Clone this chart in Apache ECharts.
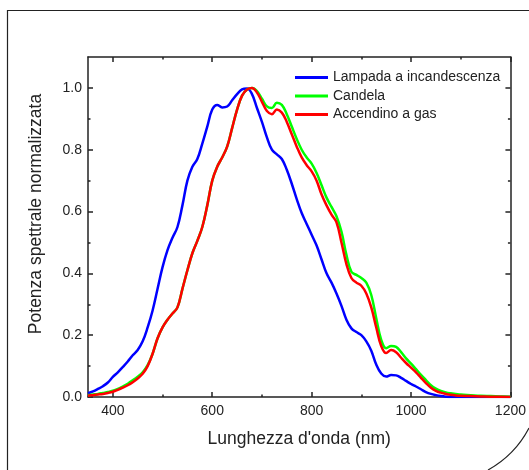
<!DOCTYPE html>
<html>
<head>
<meta charset="utf-8">
<script src="https://cdn.jsdelivr.net/npm/echarts@6/dist/echarts.min.js"></script>
<style>html,body{margin:0;padding:0;background:#fff;}#c{width:529px;height:470px;}</style>
</head>
<body>
<div id="c"></div>
<script>
var wavelengths = [350,360,370,380,390,400,410,420,430,440,450,460,470,480,490,500,510,520,530,540,550,560,570,580,590,600,610,620,630,640,650,660,670,680,690,700,710,720,730,740,750,760,770,780,790,800,810,820,830,840,850,860,870,880,890,900,910,920,930,940,950,960,970,980,990,1000,1010,1020,1030,1040,1050,1060,1070,1080,1090,1100,1120,1140,1160,1180,1200];
var lampada = [0.012,0.018,0.026,0.035,0.047,0.065,0.08,0.097,0.115,0.135,0.152,0.18,0.225,0.28,0.35,0.42,0.475,0.515,0.55,0.62,0.70,0.745,0.77,0.82,0.875,0.93,0.945,0.937,0.94,0.96,0.98,0.995,0.998,0.98,0.935,0.89,0.84,0.80,0.785,0.77,0.735,0.69,0.64,0.595,0.56,0.525,0.49,0.445,0.40,0.37,0.335,0.295,0.25,0.222,0.21,0.2,0.18,0.15,0.105,0.076,0.066,0.071,0.07,0.062,0.052,0.042,0.034,0.025,0.016,0.01,0.006,0.003,0.001,0,0,0,0,0,0,0,0];
var candela = [0.006,0.008,0.01,0.013,0.016,0.02,0.026,0.034,0.043,0.054,0.066,0.08,0.103,0.14,0.19,0.225,0.25,0.27,0.29,0.35,0.41,0.465,0.505,0.55,0.62,0.70,0.745,0.775,0.81,0.87,0.93,0.975,0.995,1.0,0.99,0.965,0.94,0.935,0.952,0.945,0.915,0.875,0.835,0.80,0.775,0.755,0.725,0.685,0.645,0.615,0.585,0.535,0.46,0.405,0.395,0.385,0.37,0.33,0.255,0.185,0.158,0.165,0.162,0.145,0.125,0.108,0.09,0.072,0.055,0.038,0.027,0.02,0.015,0.012,0.01,0.008,0.006,0.004,0.003,0.002,0.001];
var accendino = [0.004,0.006,0.008,0.01,0.013,0.017,0.023,0.03,0.038,0.048,0.06,0.075,0.1,0.14,0.19,0.225,0.25,0.27,0.29,0.35,0.41,0.465,0.505,0.55,0.62,0.70,0.745,0.775,0.81,0.87,0.93,0.975,0.995,1.0,0.985,0.955,0.925,0.915,0.93,0.92,0.89,0.85,0.81,0.775,0.75,0.73,0.70,0.655,0.62,0.59,0.565,0.5,0.43,0.385,0.37,0.36,0.335,0.29,0.225,0.165,0.142,0.152,0.145,0.127,0.11,0.095,0.08,0.062,0.045,0.03,0.02,0.014,0.01,0.007,0.005,0.004,0.003,0.002,0.001,0.001,0.0];
var seriesNames = ['Lampada a incandescenza','Candela','Accendino a gas'];
var xMajor = [400,600,800,1000,1200];
var xMinor = [500,700,900,1100];
var yMajor = [0,0.2,0.4,0.6,0.8,1.0];
var yMinor = [0.1,0.3,0.5,0.7,0.9];

function pairs(ys){ return wavelengths.map(function(x,i){ return [x, ys[i]]; }); }

var FONT = 'Liberation Sans, Arial, sans-serif';
var AX = '#222';
var chart = echarts.init(document.getElementById('c'), null, {renderer:'canvas'});

function xAx(pos, vals, len, main){
  return {
    type:'value', position:pos, min:350, max:1200,
    splitLine:{show:false},
    axisLine:{show:!!main, onZero:false, lineStyle:{color:AX, width:1.5}},
    axisTick:{show:true, inside:true, length:len, customValues:vals, lineStyle:{color:AX, width:1.5}},
    axisLabel:{show:main==='label', customValues:xMajor, margin:7, fontSize:14, color:AX, fontFamily:FONT,
      formatter:function(v){ return String(Math.round(v)); }},
    name: main==='label' ? "Lunghezza d'onda (nm)" : '',
    nameLocation:'middle', nameGap:33,
    nameTextStyle:{fontSize:17.5, color:AX, fontFamily:FONT}
  };
}
function yAx(pos, vals, len, main){
  return {
    type:'value', position:pos, min:0, max:1.1,
    splitLine:{show:false},
    axisLine:{show:!!main, onZero:false, lineStyle:{color:AX, width:1.5}},
    axisTick:{show:true, inside:true, length:len, customValues:vals, lineStyle:{color:AX, width:1.5}},
    axisLabel:{show:main==='label', customValues:yMajor, margin:6, fontSize:14, color:AX, fontFamily:FONT,
      formatter:function(v){ return Number(v).toFixed(1); }},
    name: main==='label' ? 'Potenza spettrale normalizzata' : '',
    nameLocation:'middle', nameGap:43,
    nameTextStyle:{fontSize:17.5, color:AX, fontFamily:FONT, padding:[0,0,0,26]}
  };
}

var colors = ['#0000ff','#00ff00','#ff0000'];
var datasets = [lampada, candela, accendino];

chart.setOption({
  animation:false,
  backgroundColor:'#fff',
  grid:{left:88, right:18, top:57, bottom:73, containLabel:false},
  xAxis:[xAx('bottom', xMajor, 5, 'label'), xAx('top', xMajor, 5, 'line'), xAx('bottom', xMinor, 2.5, null), xAx('top', xMinor, 2.5, null)],
  yAxis:[yAx('left', yMajor, 5, 'label'), yAx('right', yMajor, 5, 'line'), yAx('left', yMinor, 2.5, null), yAx('right', yMinor, 2.5, null)],
  legend:{
    orient:'vertical', left:295, top:69.5, itemGap:2.5, padding:0,
    itemWidth:33, itemHeight:3, icon:'rect',
    textStyle:{fontSize:14, color:AX, fontFamily:FONT, lineHeight:16},
    data:seriesNames
  },
  series: datasets.map(function(d,i){
    return {
      name:seriesNames[i], type:'line', xAxisIndex:0, yAxisIndex:0,
      data:pairs(d), showSymbol:false, symbol:'none', smooth:0.4,
      lineStyle:{color:colors[i], width:2.5}, itemStyle:{color:colors[i]},
      z: 2+i
    };
  }),
  graphic:[
    {type:'polyline', silent:true, shape:{points:[[7.5,470],[7.5,10.5],[529,10.5]]}, style:{stroke:'#222', lineWidth:1.2, fill:null}},
    {type:'bezierCurve', silent:true, shape:{x1:488,y1:470,cpx1:515,cpy1:455,x2:529,y2:428}, style:{stroke:'#222', lineWidth:1.2, fill:null}}
  ]
});
</script>
</body>
</html>
